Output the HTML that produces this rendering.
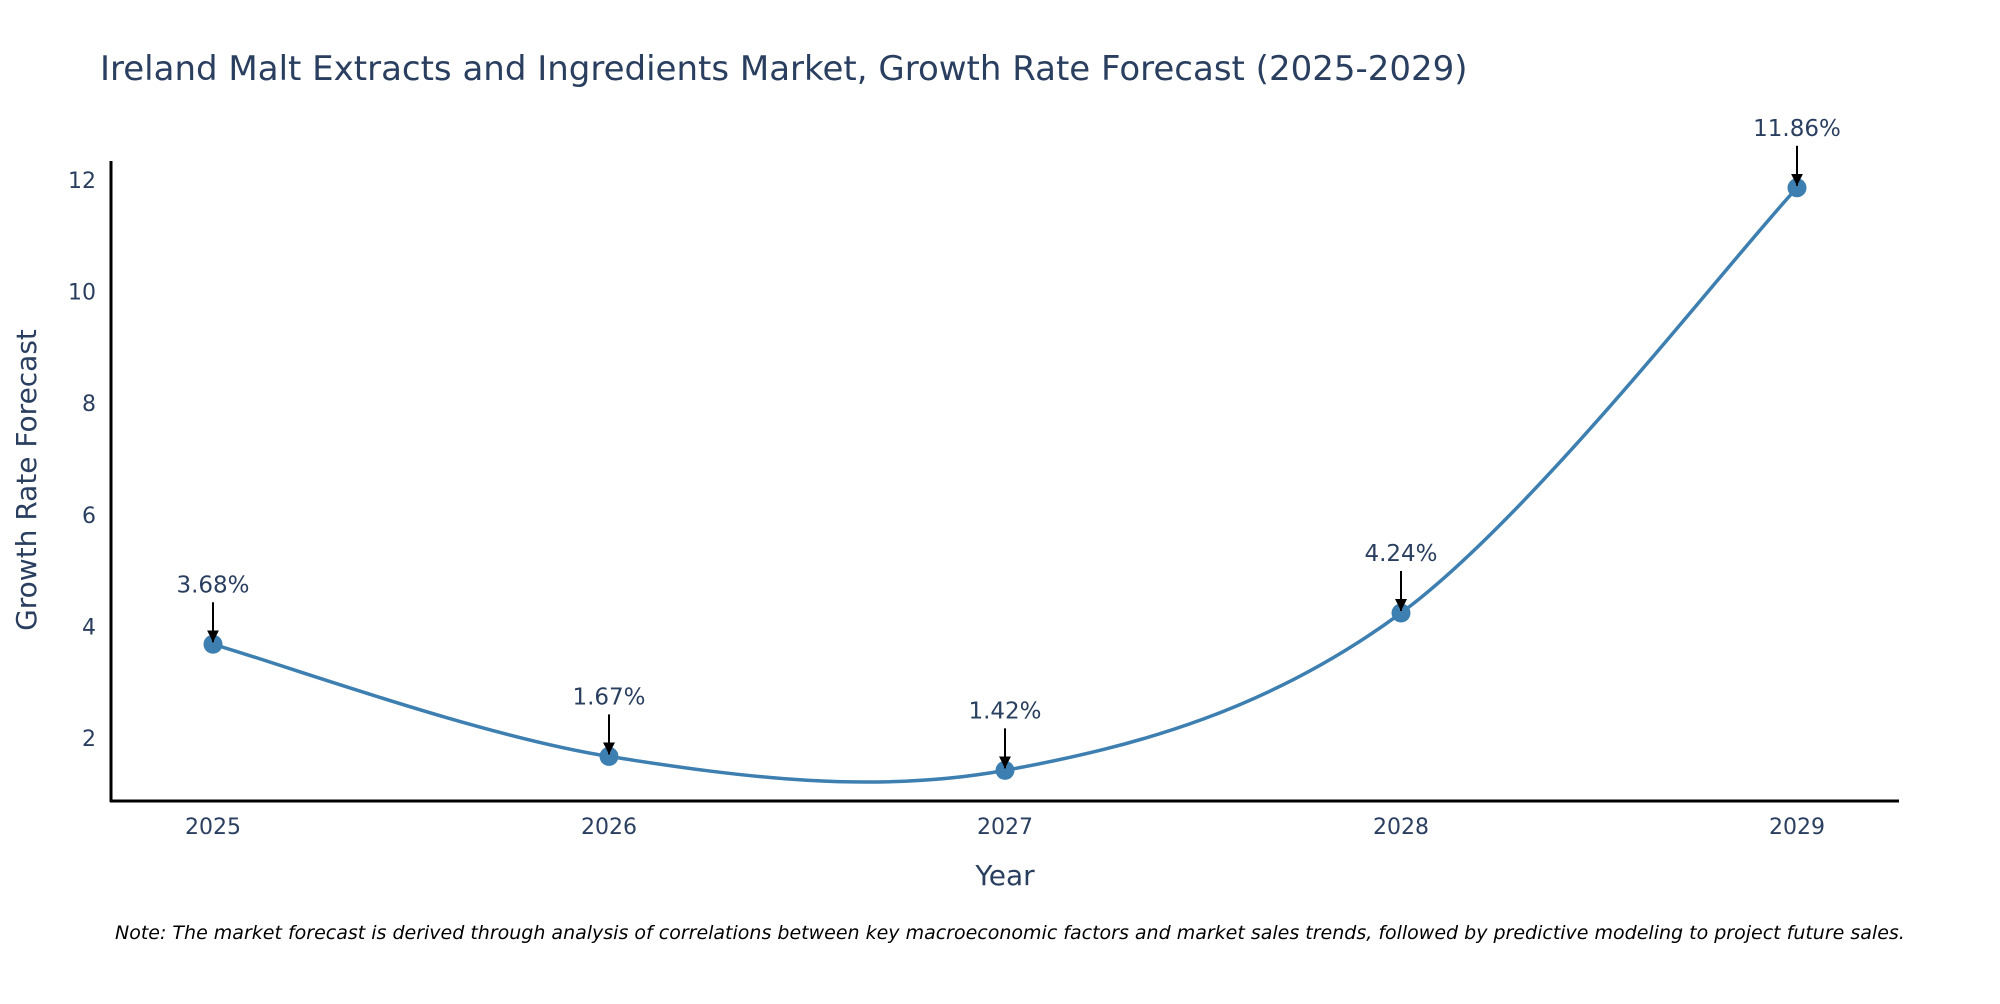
<!DOCTYPE html>
<html><head><meta charset="utf-8"><style>
body{margin:0;background:#fff;font-family:"DejaVu Sans",sans-serif}
svg text{font-family:"DejaVu Sans","Liberation Sans",sans-serif;fill:#2a3f5f}
</style></head><body>
<svg id="c" width="2000" height="1000">
<defs><marker id="ah" viewBox="0 0 10 10" refX="10" refY="5" markerWidth="6" markerHeight="6" orient="auto"><path d="M0,0 L10,5 L0,10z" fill="#000"/></marker></defs>
<text x="100" y="80" font-size="34">Ireland Malt Extracts and Ingredients Market, Growth Rate Forecast (2025-2029)</text>
<line x1="111" y1="161" x2="111" y2="802" stroke="#000" stroke-width="3"/>
<line x1="110" y1="801" x2="1899" y2="801" stroke="#000" stroke-width="3"/>
<text transform="translate(36,480) rotate(-90)" text-anchor="middle" font-size="28">Growth Rate Forecast</text>
<text x="1005" y="885" text-anchor="middle" font-size="28">Year</text>
<text x="115" y="939" font-size="19" font-style="italic" style="fill:#000">Note: The market forecast is derived through analysis of correlations between key macroeconomic factors and market sales trends, followed by predictive modeling to project future sales.</text>
<g id="g"></g>
</svg>
<script>
const years=["2025","2026","2027","2028","2029"];
const values=[3.68,1.67,1.42,4.24,11.86];
const labels=["3.68%","1.67%","1.42%","4.24%","11.86%"];
const yTicks=[2,4,6,8,10,12];
const X=i=>213+i*396, Y=v=>738-(v-2)*55.8;
const g=document.getElementById('g'),NS='http://www.w3.org/2000/svg';
function mk(t,a){const e=document.createElementNS(NS,t);for(const k in a)e.setAttribute(k,a[k]);g.appendChild(e);return e;}
yTicks.forEach(v=>{const t=mk('text',{x:96,y:Y(v)+8,'text-anchor':'end','font-size':22});t.textContent=v;

});
years.forEach((y,i)=>{const t=mk('text',{x:X(i),y:834,'text-anchor':'middle','font-size':22});t.textContent=y;

});
const P=values.map((v,i)=>[X(i),Y(v)]);
let d='M'+P[0];
for(let i=0;i<P.length-1;i++){const p0=P[i-1]||P[i],p1=P[i],p2=P[i+1],p3=P[i+2]||p2,s=1/6;
d+=' C'+(p1[0]+(p2[0]-p0[0])*s)+','+(p1[1]+(p2[1]-p0[1])*s)+' '+(p2[0]-(p3[0]-p1[0])*s)+','+(p2[1]-(p3[1]-p1[1])*s)+' '+p2;}
const ln=mk('path',{d:d,fill:'none',stroke:'#3d7fb0','stroke-width':3.5});


P.forEach((p,i)=>{const c=mk('circle',{cx:p[0],cy:p[1],r:9.5,fill:'#3d7fb0'});


const a=mk('line',{x1:p[0],y1:p[1]-42,x2:p[0],y2:p[1]-2,stroke:'#000','stroke-width':2,'marker-end':'url(#ah)'});


const t=mk('text',{x:p[0],y:p[1]-52,'text-anchor':'middle','font-size':23});t.textContent=labels[i];

});
</script>
</body></html>
